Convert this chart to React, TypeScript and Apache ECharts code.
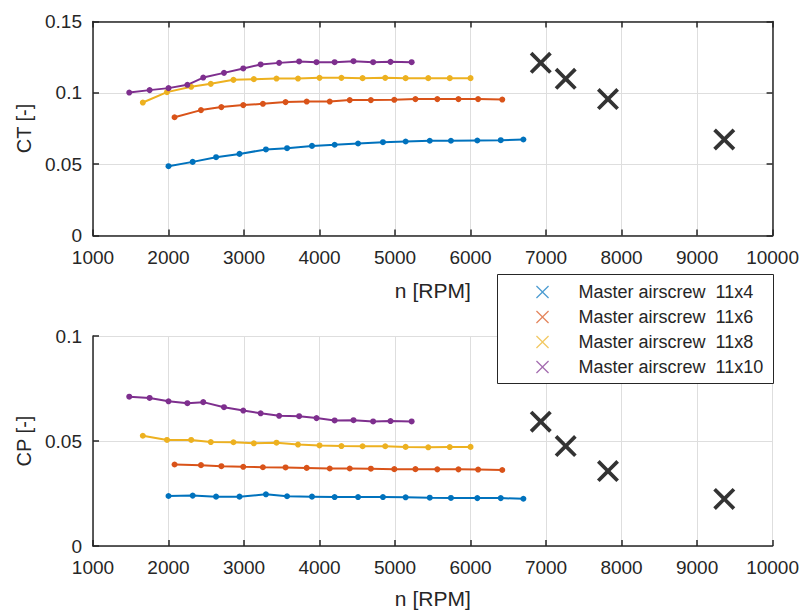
import React, { useEffect, useRef } from "react";
import * as echarts from "echarts";

const names = [
  "Master airscrew  11x4",
  "Master airscrew  11x6",
  "Master airscrew  11x8",
  "Master airscrew  11x10",
];
const colors = ["#0072BD", "#D95319", "#EDB120", "#7E2F8E"];

const rpm11x4 = [2000, 2320, 2630, 2940, 3290, 3570, 3900, 4200, 4510, 4840, 5140, 5460, 5740, 6090, 6400, 6700];
const ct11x4 = [0.0486, 0.0516, 0.0549, 0.0572, 0.0603, 0.0612, 0.0628, 0.0636, 0.0645, 0.0654, 0.0659, 0.0664, 0.0664, 0.0666, 0.0668, 0.0673];
const cp11x4 = [0.0238, 0.024, 0.0235, 0.0235, 0.0246, 0.0237, 0.0235, 0.0233, 0.0233, 0.0233, 0.0232, 0.023, 0.0229, 0.0228, 0.0228, 0.0225];

const rpm11x6 = [2080, 2430, 2700, 2990, 3250, 3550, 3830, 4135, 4400, 4680, 4990, 5270, 5560, 5840, 6100, 6420];
const ct11x6 = [0.0829, 0.0879, 0.09, 0.0914, 0.0923, 0.0935, 0.0939, 0.0939, 0.0949, 0.0949, 0.0951, 0.0956, 0.0956, 0.0956, 0.0956, 0.0953];
const cp11x6 = [0.0388, 0.0385, 0.038, 0.0377, 0.0375, 0.0374, 0.0372, 0.0369, 0.0369, 0.0368, 0.0366, 0.0366, 0.0365, 0.0365, 0.0364, 0.0362];

const rpm11x8 = [1660, 1980, 2300, 2560, 2860, 3130, 3430, 3715, 4000, 4290, 4570, 4870, 5140, 5440, 5725, 6000];
const ct11x8 = [0.0932, 0.1005, 0.1042, 0.1063, 0.1091, 0.1096, 0.11, 0.11, 0.1105, 0.1105, 0.1103, 0.1105, 0.1103, 0.1103, 0.1103, 0.1103];
const cp11x8 = [0.0525, 0.0505, 0.0505, 0.0495, 0.0494, 0.0489, 0.0492, 0.0483, 0.0479, 0.0476, 0.0475, 0.0475, 0.0472, 0.047, 0.0471, 0.0472];

const rpm11x10 = [1480, 1750, 2000, 2250, 2460, 2735, 2990, 3220, 3465, 3730, 3960, 4200, 4450, 4710, 4940, 5220];
const ct11x10 = [0.1002, 0.1019, 0.1033, 0.1056, 0.1107, 0.114, 0.1171, 0.1199, 0.121, 0.122, 0.1215, 0.1215, 0.1222, 0.1215, 0.1217, 0.1215];
const cp11x10 = [0.0711, 0.0705, 0.0689, 0.068, 0.0685, 0.0661, 0.0645, 0.0632, 0.062, 0.0618, 0.0609, 0.0598, 0.0599, 0.0593, 0.0595, 0.0593];

const rpmRef = [6930, 7260, 7820, 9360];
const ctRef = [0.121, 0.1098, 0.0956, 0.0673];
const cpRef = [0.0592, 0.0476, 0.0357, 0.0224];

const rpmSets = [rpm11x4, rpm11x6, rpm11x8, rpm11x10];
const ctSets = [ct11x4, ct11x6, ct11x8, ct11x10];
const cpSets = [cp11x4, cp11x6, cp11x8, cp11x10];

const FONT = "Liberation Sans, Arial, sans-serif";
const AX = "#262626";
const GRIDC = "#dedede";

const BIG_X = "path://M0,12L12,0L50,38L88,0L100,12L62,50L100,88L88,100L50,62L12,100L0,88L38,50Z";
const THIN_X = "path://M0,7L7,0L50,43L93,0L100,7L57,50L100,93L93,100L50,57L7,100L0,93L43,50Z";

const zip = (xs: number[], ys: number[]) => xs.map((x, i) => [x, ys[i]]);
const plain = (v: number) => String(v);

export default function App() {
  const ref = useRef<HTMLDivElement>(null);
  useEffect(() => {
    if (!ref.current) return;
    const chart = echarts.init(ref.current, null, { renderer: "svg" });

    const xBase = (gridIndex: number) => ({
      type: "value",
      gridIndex,
      min: 1000,
      max: 10000,
      interval: 1000,
      axisLine: { show: true, onZero: false, lineStyle: { color: AX, width: 1.5 } },
      axisTick: { show: true, inside: true, length: 6, lineStyle: { color: AX, width: 1.5 } },
      axisLabel: { show: true, color: AX, fontSize: 19, fontFamily: FONT, margin: 12, formatter: plain },
      splitLine: { show: true, lineStyle: { color: GRIDC, width: 1 } },
      name: "n [RPM]",
      nameLocation: "middle",
      nameGap: gridIndex === 0 ? 44 : 42,
      nameTextStyle: { color: AX, fontSize: 21, fontFamily: FONT },
    });

    const lineSeries = (k: number, which: "ct" | "cp") => ({
      type: "line",
      name: names[k],
      xAxisIndex: which === "ct" ? 0 : 2,
      yAxisIndex: which === "ct" ? 0 : 2,
      data: zip(rpmSets[k], which === "ct" ? ctSets[k] : cpSets[k]),
      symbol: "circle",
      symbolSize: 6,
      showSymbol: true,
      lineStyle: { color: colors[k], width: 2 },
      itemStyle: { color: colors[k] },
      z: 3,
    });

    const option: any = {
      animation: false,
      backgroundColor: "#ffffff",
      textStyle: { fontFamily: FONT },
      grid: [
        { left: 93, top: 21.5, width: 681, height: 214 },
        { left: 93, top: 336, width: 681, height: 210 },
      ],
      xAxis: [
        xBase(0),
        {
          type: "value",
          gridIndex: 0,
          position: "top",
          min: 1000,
          max: 10000,
          interval: 1000,
          axisLine: { show: true, onZero: false, lineStyle: { color: AX, width: 1.5 } },
          axisTick: { show: true, inside: true, length: 6, lineStyle: { color: AX, width: 1.5 } },
          axisLabel: { show: false },
          splitLine: { show: false },
        },
        xBase(1),
      ],
      yAxis: [
        {
          type: "value",
          gridIndex: 0,
          min: 0,
          max: 0.15,
          interval: 0.05,
          axisLine: { show: true, onZero: false, lineStyle: { color: AX, width: 1.5 } },
          axisTick: { show: true, inside: true, length: 6, lineStyle: { color: AX, width: 1.5 } },
          axisLabel: { show: true, color: AX, fontSize: 19, fontFamily: FONT, margin: 11 },
          splitLine: { show: true, lineStyle: { color: GRIDC, width: 1 } },
          name: "CT [-]",
          nameLocation: "middle",
          nameRotate: 90,
          nameGap: 58,
          nameTextStyle: { color: AX, fontSize: 20, fontFamily: FONT },
        },
        {
          type: "value",
          gridIndex: 0,
          position: "right",
          min: 0,
          max: 0.15,
          interval: 0.05,
          axisLine: { show: true, onZero: false, lineStyle: { color: AX, width: 1.5 } },
          axisTick: { show: true, inside: true, length: 6, lineStyle: { color: AX, width: 1.5 } },
          axisLabel: { show: false },
          splitLine: { show: false },
        },
        {
          type: "value",
          gridIndex: 1,
          min: 0,
          max: 0.1,
          interval: 0.05,
          axisLine: { show: true, onZero: false, lineStyle: { color: AX, width: 1.5 } },
          axisTick: { show: true, inside: true, length: 6, lineStyle: { color: AX, width: 1.5 } },
          axisLabel: { show: true, color: AX, fontSize: 19, fontFamily: FONT, margin: 11 },
          splitLine: { show: true, lineStyle: { color: GRIDC, width: 1 } },
          name: "CP [-]",
          nameLocation: "middle",
          nameRotate: 90,
          nameGap: 58,
          nameTextStyle: { color: AX, fontSize: 20, fontFamily: FONT },
        },
      ],
      graphic: [
        {
          type: "rect",
          left: 497,
          top: 274,
          z: 50,
          shape: { width: 276, height: 109 },
          style: { fill: "#ffffff", stroke: AX, lineWidth: 1 },
        },
      ],
      legend: {
        show: true,
        z: 60,
        orient: "vertical",
        left: 522,
        top: 275,
        padding: [8, 10, 8, 14],
        itemWidth: 62,
        itemHeight: 13,
        itemGap: 7,
        symbolKeepAspect: true,
        data: names.map((n) => ({ name: n, icon: THIN_X, itemStyle: { opacity: 0.7 } })),
        textStyle: { color: AX, fontSize: 18, fontFamily: FONT, lineHeight: 18 },
      },
      series: [
        ...[0, 1, 2, 3].map((k) => lineSeries(k, "ct")),
        ...[0, 1, 2, 3].map((k) => lineSeries(k, "cp")),
        {
          type: "scatter",
          name: "Reference CT",
          xAxisIndex: 0,
          yAxisIndex: 0,
          data: zip(rpmRef, ctRef),
          symbol: BIG_X,
          symbolSize: 22,
          itemStyle: { color: "#000000" },
          z: 4,
        },
        {
          type: "scatter",
          name: "Reference CP",
          xAxisIndex: 2,
          yAxisIndex: 2,
          data: zip(rpmRef, cpRef),
          symbol: BIG_X,
          symbolSize: 22,
          itemStyle: { color: "#000000" },
          z: 4,
        },
      ],
    };
    chart.setOption(option);
    return () => chart.dispose();
  }, []);
  return <div ref={ref} style={{ width: 802, height: 612, position: "absolute", left: 0, top: 0 }} />;
}
